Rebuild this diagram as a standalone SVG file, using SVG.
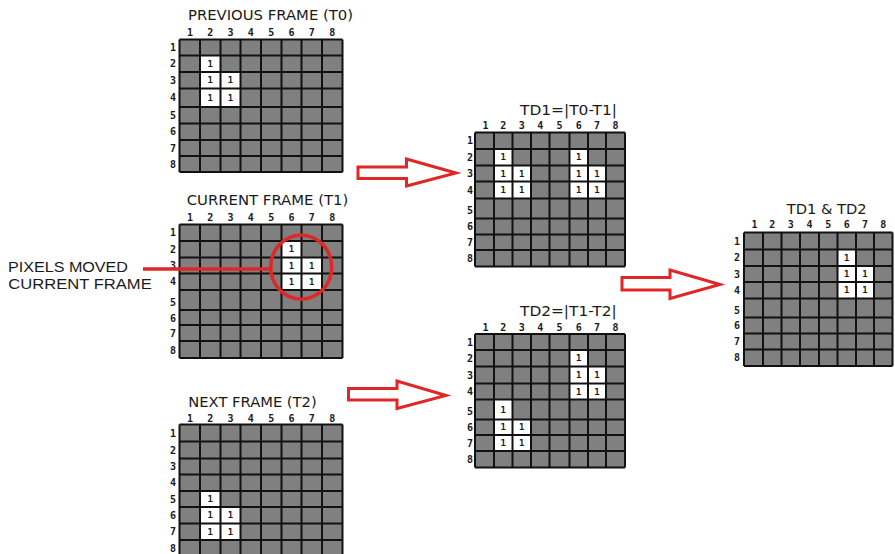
<svg xmlns="http://www.w3.org/2000/svg" width="895" height="554" viewBox="0 0 895 554">
<style>
.bg{fill:#808080}
.w{fill:#ffffff}
.gl{fill:none;stroke:#111;stroke-width:2}
.title{font-family:"DejaVu Sans",Verdana,sans-serif;font-size:13.5px;fill:#1a1a1a}
.hd{font-family:"DejaVu Sans Mono","Liberation Mono",monospace;font-size:10px;font-weight:bold;fill:#1a1a1a;text-anchor:middle}
.rn{font-family:"DejaVu Sans Mono","Liberation Mono",monospace;font-size:10px;font-weight:bold;fill:#1a1a1a;text-anchor:middle;dominant-baseline:central}
.c{font-family:"DejaVu Sans Mono","Liberation Mono",monospace;font-size:9px;font-weight:bold;fill:#1a1a1a;text-anchor:middle;dominant-baseline:central}
.arrow{fill:#ffffff;stroke:#e02626;stroke-width:3;stroke-linejoin:miter}
.red{fill:none;stroke:#e02626;stroke-width:3.5}
.lbl{font-family:"Liberation Sans",Arial,sans-serif;font-size:15px;fill:#1a1a1a}
</style>

<!-- PREVIOUS FRAME (T0) -->
<g id="frame-t0">
<text class="title" x="188" y="20" textLength="165" lengthAdjust="spacingAndGlyphs">PREVIOUS FRAME (T0)</text>
<g>
<text class="hd" x="190" y="36">1</text><text class="hd" x="210.25" y="36">2</text><text class="hd" x="230.5" y="36">3</text><text class="hd" x="250.75" y="36">4</text><text class="hd" x="271.25" y="36">5</text><text class="hd" x="291.5" y="36">6</text><text class="hd" x="311.75" y="36">7</text><text class="hd" x="332.25" y="36">8</text>
</g>
<g>
<text class="rn" x="173" y="47.5">1</text><text class="rn" x="173" y="63.75">2</text><text class="rn" x="173" y="80.25">3</text><text class="rn" x="173" y="97.75">4</text><text class="rn" x="173" y="115.25">5</text><text class="rn" x="173" y="131.75">6</text><text class="rn" x="173" y="148">7</text><text class="rn" x="173" y="164">8</text>
</g>
<rect class="bg" x="179.5" y="39.5" width="163" height="132.5"/>
<rect class="w" x="200" y="55.5" width="20.5" height="51.5"/>
<rect class="w" x="220.5" y="72" width="20" height="35"/>
<path class="gl" d="M179.5 39.5V172M200 39.5V172M220.5 39.5V172M240.5 39.5V172M261 39.5V172M281.5 39.5V172M301.5 39.5V172M322 39.5V172M342.5 39.5V172M179.5 39.5H342.5M179.5 55.5H342.5M179.5 72H342.5M179.5 88.5H342.5M179.5 107H342.5M179.5 123.5H342.5M179.5 140H342.5M179.5 156H342.5M179.5 172H342.5"/>
<text class="c" x="210.25" y="63.75">1</text><text class="c" x="210.25" y="80.25">1</text><text class="c" x="230.5" y="80.25">1</text><text class="c" x="210.25" y="97.75">1</text><text class="c" x="230.5" y="97.75">1</text>
</g>

<!-- CURRENT FRAME (T1) -->
<g id="frame-t1">
<text class="title" x="186.7" y="205" textLength="161.6" lengthAdjust="spacingAndGlyphs">CURRENT FRAME (T1)</text>
<g>
<text class="hd" x="190" y="220.5">1</text><text class="hd" x="210.25" y="220.5">2</text><text class="hd" x="230.5" y="220.5">3</text><text class="hd" x="250.75" y="220.5">4</text><text class="hd" x="271.25" y="220.5">5</text><text class="hd" x="291.5" y="220.5">6</text><text class="hd" x="311.75" y="220.5">7</text><text class="hd" x="332.25" y="220.5">8</text>
</g>
<g>
<text class="rn" x="173" y="232.75">1</text><text class="rn" x="173" y="249.25">2</text><text class="rn" x="173" y="265.5">3</text><text class="rn" x="173" y="281.75">4</text><text class="rn" x="173" y="302">5</text><text class="rn" x="173" y="318">6</text><text class="rn" x="173" y="333">7</text><text class="rn" x="173" y="350">8</text>
</g>
<rect class="bg" x="179.5" y="224.5" width="163" height="133.5"/>
<rect class="w" x="281.5" y="241" width="20" height="49"/>
<rect class="w" x="301.5" y="257.5" width="20.5" height="32.5"/>
<path class="gl" d="M179.5 224.5V358M200 224.5V358M220.5 224.5V358M240.5 224.5V358M261 224.5V358M281.5 224.5V358M301.5 224.5V358M322 224.5V358M342.5 224.5V358M179.5 224.5H342.5M179.5 241H342.5M179.5 257.5H342.5M179.5 273.5H342.5M179.5 290H342.5M179.5 310H342.5M179.5 325H342.5M179.5 341H342.5M179.5 358H342.5"/>
<text class="c" x="291.5" y="249.25">1</text><text class="c" x="291.5" y="265.5">1</text><text class="c" x="311.75" y="265.5">1</text><text class="c" x="291.5" y="281.75">1</text><text class="c" x="311.75" y="281.75">1</text>
</g>

<!-- NEXT FRAME (T2) -->
<g id="frame-t2">
<text class="title" x="188.3" y="406.5" textLength="128.4" lengthAdjust="spacingAndGlyphs">NEXT FRAME (T2)</text>
<g>
<text class="hd" x="190" y="421.7">1</text><text class="hd" x="210.25" y="421.7">2</text><text class="hd" x="230.5" y="421.7">3</text><text class="hd" x="250.75" y="421.7">4</text><text class="hd" x="271.25" y="421.7">5</text><text class="hd" x="291.5" y="421.7">6</text><text class="hd" x="311.75" y="421.7">7</text><text class="hd" x="332.25" y="421.7">8</text>
</g>
<g>
<text class="rn" x="173" y="433">1</text><text class="rn" x="173" y="450">2</text><text class="rn" x="173" y="466.5">3</text><text class="rn" x="173" y="482.75">4</text><text class="rn" x="173" y="499">5</text><text class="rn" x="173" y="515.25">6</text><text class="rn" x="173" y="531.75">7</text><text class="rn" x="173" y="548">8</text>
</g>
<rect class="bg" x="179.5" y="424.5" width="163" height="131.5"/>
<rect class="w" x="200" y="491" width="20.5" height="49"/>
<rect class="w" x="220.5" y="507" width="20" height="33"/>
<path class="gl" d="M179.5 424.5V556M200 424.5V556M220.5 424.5V556M240.5 424.5V556M261 424.5V556M281.5 424.5V556M301.5 424.5V556M322 424.5V556M342.5 424.5V556M179.5 424.5H342.5M179.5 441.5H342.5M179.5 458.5H342.5M179.5 474.5H342.5M179.5 491H342.5M179.5 507H342.5M179.5 523.5H342.5M179.5 540H342.5"/>
<text class="c" x="210.25" y="499">1</text><text class="c" x="210.25" y="515.25">1</text><text class="c" x="230.5" y="515.25">1</text><text class="c" x="210.25" y="531.75">1</text><text class="c" x="230.5" y="531.75">1</text>
</g>

<!-- TD1 -->
<g id="td1">
<text class="title" x="520" y="115" textLength="97" lengthAdjust="spacingAndGlyphs">TD1=|T0-T1|</text>
<g>
<text class="hd" x="485.5" y="129.3">1</text><text class="hd" x="503.25" y="129.3">2</text><text class="hd" x="521.75" y="129.3">3</text><text class="hd" x="540.25" y="129.3">4</text><text class="hd" x="559.5" y="129.3">5</text><text class="hd" x="578.75" y="129.3">6</text><text class="hd" x="597" y="129.3">7</text><text class="hd" x="615.5" y="129.3">8</text>
</g>
<g>
<text class="rn" x="470" y="140.75">1</text><text class="rn" x="470" y="157.25">2</text><text class="rn" x="470" y="173.5">3</text><text class="rn" x="470" y="190">4</text><text class="rn" x="470" y="210">5</text><text class="rn" x="470" y="226.5">6</text><text class="rn" x="470" y="242.25">7</text><text class="rn" x="470" y="258.25">8</text>
</g>
<rect class="bg" x="475" y="132.5" width="150" height="134"/>
<rect class="w" x="494" y="149" width="18.5" height="49.5"/>
<rect class="w" x="512.5" y="165.5" width="18.5" height="33"/>
<rect class="w" x="569.5" y="149" width="18.5" height="49.5"/>
<rect class="w" x="588" y="165.5" width="18" height="33"/>
<path class="gl" d="M475 132.5V266.5M494 132.5V266.5M512.5 132.5V266.5M531 132.5V266.5M549.5 132.5V266.5M569.5 132.5V266.5M588 132.5V266.5M606 132.5V266.5M625 132.5V266.5M475 132.5H625M475 149H625M475 165.5H625M475 181.5H625M475 198.5H625M475 218.5H625M475 234.5H625M475 250H625M475 266.5H625"/>
<text class="c" x="503.25" y="157.25">1</text><text class="c" x="503.25" y="173.5">1</text><text class="c" x="521.75" y="173.5">1</text><text class="c" x="503.25" y="190">1</text><text class="c" x="521.75" y="190">1</text>
<text class="c" x="578.75" y="157.25">1</text><text class="c" x="578.75" y="173.5">1</text><text class="c" x="597" y="173.5">1</text><text class="c" x="578.75" y="190">1</text><text class="c" x="597" y="190">1</text>
</g>

<!-- TD2 -->
<g id="td2">
<text class="title" x="520" y="316" textLength="96.7" lengthAdjust="spacingAndGlyphs">TD2=|T1-T2|</text>
<g>
<text class="hd" x="485.5" y="330.7">1</text><text class="hd" x="503.25" y="330.7">2</text><text class="hd" x="521.75" y="330.7">3</text><text class="hd" x="540.25" y="330.7">4</text><text class="hd" x="559.5" y="330.7">5</text><text class="hd" x="578.75" y="330.7">6</text><text class="hd" x="597" y="330.7">7</text><text class="hd" x="615.5" y="330.7">8</text>
</g>
<g>
<text class="rn" x="470" y="342">1</text><text class="rn" x="470" y="358.25">2</text><text class="rn" x="470" y="375">3</text><text class="rn" x="470" y="391.5">4</text><text class="rn" x="470" y="411">5</text><text class="rn" x="470" y="427.25">6</text><text class="rn" x="470" y="443">7</text><text class="rn" x="470" y="459.25">8</text>
</g>
<rect class="bg" x="475" y="334" width="150" height="133.5"/>
<rect class="w" x="569.5" y="350" width="18.5" height="49.5"/>
<rect class="w" x="588" y="366.5" width="18" height="33"/>
<rect class="w" x="494" y="399.5" width="18.5" height="51.5"/>
<rect class="w" x="512.5" y="419.5" width="18.5" height="31.5"/>
<path class="gl" d="M475 334V467.5M494 334V467.5M512.5 334V467.5M531 334V467.5M549.5 334V467.5M569.5 334V467.5M588 334V467.5M606 334V467.5M625 334V467.5M475 334H625M475 350H625M475 366.5H625M475 383.5H625M475 399.5H625M475 419.5H625M475 435H625M475 451H625M475 467.5H625"/>
<text class="c" x="578.75" y="358.25">1</text><text class="c" x="578.75" y="375">1</text><text class="c" x="597" y="375">1</text><text class="c" x="578.75" y="391.5">1</text><text class="c" x="597" y="391.5">1</text>
<text class="c" x="503.25" y="409.5">1</text><text class="c" x="503.25" y="427.25">1</text><text class="c" x="521.75" y="427.25">1</text><text class="c" x="503.25" y="443">1</text><text class="c" x="521.75" y="443">1</text>
</g>

<!-- TD1 & TD2 -->
<g id="td1-and-td2">
<text class="title" x="786.7" y="214" textLength="80" lengthAdjust="spacingAndGlyphs">TD1 &amp; TD2</text>
<g>
<text class="hd" x="754.5" y="228.3">1</text><text class="hd" x="772.25" y="228.3">2</text><text class="hd" x="790.75" y="228.3">3</text><text class="hd" x="809.5" y="228.3">4</text><text class="hd" x="828.25" y="228.3">5</text><text class="hd" x="846.75" y="228.3">6</text><text class="hd" x="865" y="228.3">7</text><text class="hd" x="883.25" y="228.3">8</text>
</g>
<g>
<text class="rn" x="737" y="241">1</text><text class="rn" x="737" y="257.75">2</text><text class="rn" x="737" y="274">3</text><text class="rn" x="737" y="290.25">4</text><text class="rn" x="737" y="310">5</text><text class="rn" x="737" y="325.5">6</text><text class="rn" x="737" y="341.5">7</text><text class="rn" x="737" y="357.75">8</text>
</g>
<rect class="bg" x="744" y="232.5" width="148.5" height="133.5"/>
<rect class="w" x="837.5" y="249.5" width="18.5" height="49"/>
<rect class="w" x="856" y="266" width="18" height="32.5"/>
<path class="gl" d="M744 232.5V366M763 232.5V366M781.5 232.5V366M800 232.5V366M819 232.5V366M837.5 232.5V366M856 232.5V366M874 232.5V366M892.5 232.5V366M744 232.5H892.5M744 249.5H892.5M744 266H892.5M744 282H892.5M744 298.5H892.5M744 317.5H892.5M744 333.5H892.5M744 349.5H892.5M744 366H892.5"/>
<text class="c" x="846.75" y="257.75">1</text><text class="c" x="846.75" y="274">1</text><text class="c" x="865" y="274">1</text><text class="c" x="846.75" y="290.25">1</text><text class="c" x="865" y="290.25">1</text>
</g>

<!-- annotation -->
<g id="annotation">
<text class="lbl" x="8" y="272" textLength="120" lengthAdjust="spacingAndGlyphs">PIXELS MOVED</text>
<text class="lbl" x="8.3" y="288.5" textLength="143.4" lengthAdjust="spacingAndGlyphs">CURRENT FRAME</text>
<line class="red" x1="143" y1="269" x2="271" y2="269"/>
<ellipse class="red" cx="301.2" cy="267.2" rx="30.5" ry="32"/>
</g>

<!-- connectors -->
<g id="connectors">
<polygon class="arrow" points="358,167 406.5,167 406.5,159 456,173 406.5,186 406.5,178.5 358,178.5"/>
<polygon class="arrow" points="348.5,388.5 397,388.5 397,381 446,395.5 397,408.5 397,400 348.5,400"/>
<polygon class="arrow" points="622,277.5 670,277.5 670,270 720,284.5 670,298.5 670,290 622,290"/>
</g>
</svg>
